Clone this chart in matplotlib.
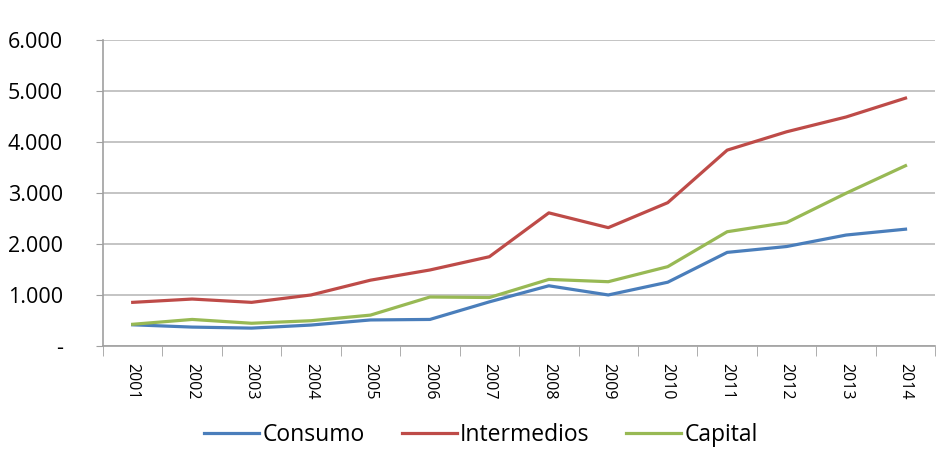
import numpy as np
import matplotlib
matplotlib.use("Agg")
import matplotlib.pyplot as plt
from matplotlib.ticker import FuncFormatter, FixedLocator

# Data
years = ["2001", "2002", "2003", "2004", "2005", "2006", "2007",
         "2008", "2009", "2010", "2011", "2012", "2013", "2014"]
consumo = [415, 370, 350, 410, 510, 520, 865, 1180, 1000, 1250, 1835, 1950, 2175, 2290]
intermedios = [855, 920, 855, 1000, 1290, 1490, 1750, 2610, 2320, 2810, 3840, 4200, 4490, 4860]
capital = [425, 520, 445, 495, 605, 960, 950, 1305, 1260, 1555, 2240, 2420, 2995, 3535]

plt.rcParams["font.family"] = ["Open Sans", "DejaVu Sans"]

fig = plt.figure(figsize=(9.49, 4.65), dpi=100)
ax = fig.add_axes([0.1085, 0.256, 0.877, 0.658])

x = np.arange(len(years))
ax.plot(x, consumo, color="#4A7EBB", lw=2.3, label="Consumo")
ax.plot(x, intermedios, color="#BE4B48", lw=2.3, label="Intermedios")
ax.plot(x, capital, color="#98B954", lw=2.3, label="Capital")

ax.set_xlim(-0.5, len(years) - 0.5)
ax.set_ylim(0, 6000)
ax.set_yticks(np.arange(0, 6001, 1000))
ax.yaxis.set_major_formatter(FuncFormatter(
    lambda v, p: "-" if v == 0 else f"{int(v):,}".replace(",", ".")))
ax.grid(axis="y", color="#BFBFBF", lw=1.3)
ax.set_axisbelow(True)

ax.set_xticks(x)
ax.set_xticklabels(years, rotation=270, fontsize=11.5)
ax.xaxis.set_minor_locator(FixedLocator(np.arange(-0.5, len(years), 1)))
ax.tick_params(axis="x", which="major", length=0, pad=12)
ax.tick_params(axis="x", which="minor", length=7, color="#A0A0A0")
ax.tick_params(axis="y", length=5, color="#A0A0A0", labelsize=15.5, pad=24)

for s in ["top", "right"]:
    ax.spines[s].set_visible(False)
for s in ["left", "bottom"]:
    ax.spines[s].set_color("#A0A0A0")
    ax.spines[s].set_linewidth(1.2)

fig.legend(loc="center", ncol=3, frameon=False, fontsize=16.5,
           bbox_to_anchor=(0.507, 0.065), handlelength=2.4, handletextpad=0.15,
           columnspacing=1.6)

fig.savefig("out.png", dpi=100)
